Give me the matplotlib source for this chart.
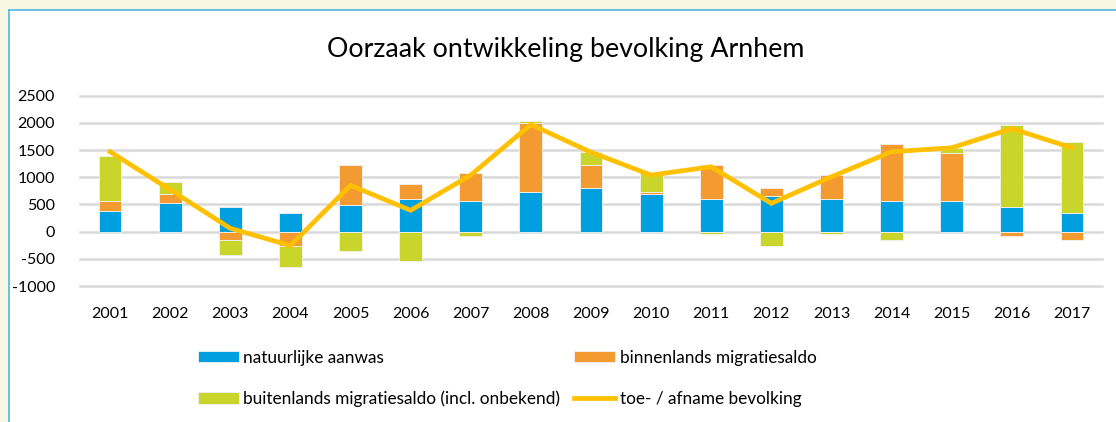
import matplotlib
matplotlib.use("Agg")
import matplotlib.pyplot as plt
import numpy as np
from matplotlib.patches import Rectangle
from matplotlib.lines import Line2D

years = ["2001", "2002", "2003", "2004", "2005", "2006", "2007", "2008", "2009",
         "2010", "2011", "2012", "2013", "2014", "2015", "2016", "2017"]
natuurlijk = [380, 532, 453, 343, 490, 606, 569, 722, 808, 692, 606, 649, 606, 569, 569, 450, 340]
binnenlands = [189, 153, -160, -263, 734, 275, 502, 1279, 416, 36, 618, 153, 428, 1041, 881, -78, -158]
buitenlands = [814, 233, -262, -392, -349, -539, -73, 31, 239, 343, -37, -269, -37, -153, 86, 1510, 1306]
totaal = [1470, 770, 61, -257, 851, 392, 1040, 1970, 1460, 1040, 1193, 520, 1010, 1469, 1542, 1895, 1542]

labels = ["natuurlijke aanwas", "binnenlands migratiesaldo",
          "buitenlands migratiesaldo (incl. onbekend)", "toe- / afname bevolking"]
title = "Oorzaak ontwikkeling bevolking Arnhem"
yticks = [-1000, -500, 0, 500, 1000, 1500, 2000, 2500]

C_BLUE = "#009FE0"
C_ORANGE = "#F39A30"
C_GREEN = "#C9D52B"
C_LINE = "#FFC000"

plt.rcParams['font.family'] = ['Lato', 'DejaVu Sans']

W, H = 1116, 422
fig = plt.figure(figsize=(W / 100, H / 100), dpi=100)
fig.patch.set_facecolor("#F8F8E2")

# white chart area with blue border on left/top
fig.patches.append(Rectangle((9 / W, 0), 1 - 9 / W, (H - 10) / H, transform=fig.transFigure,
                             facecolor="white", edgecolor="none", zorder=-5))
fig.lines.append(Line2D([9 / W, 9 / W], [0, (H - 10) / H], transform=fig.transFigure,
                        color="#5BBCE8", lw=1.3, zorder=-4))
fig.lines.append(Line2D([9 / W, 1], [(H - 10) / H, (H - 10) / H], transform=fig.transFigure,
                        color="#5BBCE8", lw=1.3, zorder=-4))

left, right = 80 / W, 1102 / W
bottom, top = 1 - 286 / H, 1 - 95.7 / H
ax = fig.add_axes([left, bottom, right - left, top - bottom])
ax.set_facecolor("none")

x = np.arange(len(years))
series = [natuurlijk, binnenlands, buitenlands]
colors = [C_BLUE, C_ORANGE, C_GREEN]
pos_base = np.zeros(len(years))
neg_base = np.zeros(len(years))
handles = []
for vals, col, lab in zip(series, colors, labels[:3]):
    v = np.array(vals, dtype=float)
    base = np.where(v >= 0, pos_base, neg_base)
    b = ax.bar(x, v, bottom=base, width=0.38, color=col, edgecolor="#F2F2F2",
               linewidth=0.6, zorder=2, label=lab)
    handles.append(b)
    pos_base = pos_base + np.where(v >= 0, v, 0)
    neg_base = neg_base + np.where(v < 0, v, 0)

ln, = ax.plot(x, totaal, color=C_LINE, lw=3.4, zorder=3, label=labels[3],
              solid_joinstyle="miter")

ax.set_xlim(-0.5, len(years) - 0.5)
ax.set_ylim(-1000, 2500)
ax.set_yticks(yticks)
ax.set_yticklabels([str(t) for t in yticks])
ax.set_xticks(x)
ax.set_xticklabels(years)
ax.tick_params(axis="both", length=0, labelsize=11.5, colors="#000000")
ax.tick_params(axis="y", pad=18)
ax.tick_params(axis="x", pad=15)
for s in ax.spines.values():
    s.set_visible(False)
ax.yaxis.grid(True, color="#D9D9D9", lw=1.8, zorder=0)
ax.set_axisbelow(True)
for gl in ax.yaxis.get_gridlines():
    gl.set_clip_on(False)

fig.text(566 / W, 1 - 50 / H, title, ha="center", va="center", fontsize=19.3, color="#000000")

leg = fig.legend([handles[0], handles[2], handles[1], ln],
                 [labels[0], labels[2], labels[1], labels[3]],
                 ncol=2, loc="upper left", bbox_to_anchor=(189 / W, 1 - 341 / H),
                 frameon=False, fontsize=12.4, handlelength=2.4, handleheight=0.65,
                 handletextpad=0.25, labelspacing=1.45, columnspacing=0.8, borderpad=0)

fig.savefig("out.png", dpi=100, facecolor=fig.get_facecolor())
